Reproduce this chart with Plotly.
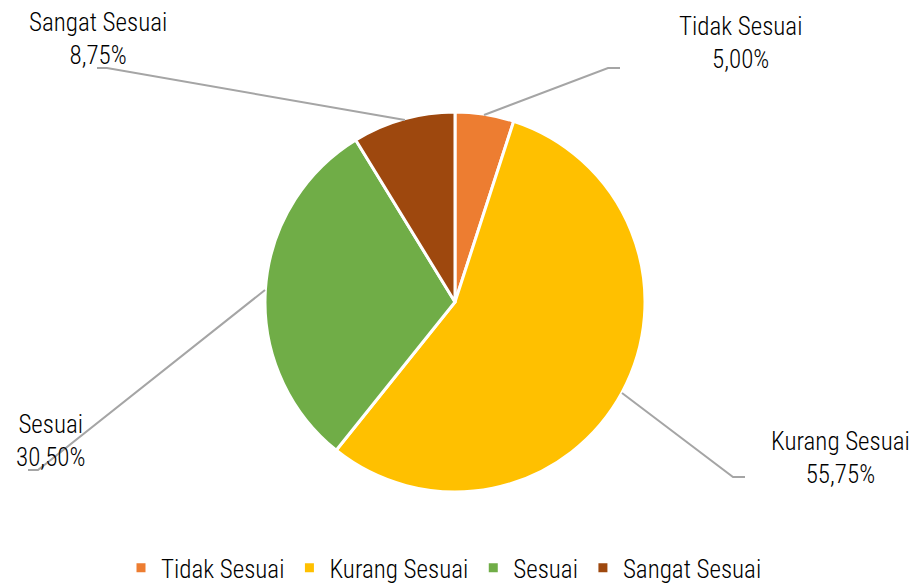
import plotly.graph_objects as go

categories = ["Tidak Sesuai", "Kurang Sesuai", "Sesuai", "Sangat Sesuai"]
values = [5.00, 55.75, 30.50, 8.75]
colors = ["#ED7D31", "#FFC000", "#70AD47", "#9E480E"]
label_text = ["5,00%", "55,75%", "30,50%", "8,75%"]

FONT = "Roboto Condensed, Arial Narrow, Liberation Sans, sans-serif"
W, H = 918, 584
OFF = 8  # page body margin


def px(x):
    return (x - OFF) / W


def py(y):
    return 1 - (y - OFF) / H


CX, CY, R = 455, 302, 190

fig = go.Figure(go.Pie(
    labels=categories, values=values, sort=False, direction="clockwise", rotation=0,
    marker=dict(colors=colors, line=dict(color="white", width=3)),
    textinfo="none", hoverinfo="label+percent",
    domain=dict(x=[px(CX - R), px(CX + R)], y=[py(CY + R), py(CY - R)]),
))

# leader line paths (pixel layout positions)
leaders = [
    [(484, 115), (608, 68), (620, 68)],
    [(622, 393), (733, 477), (745, 477)],
    [(265, 290), (38, 470), (28, 470)],
    [(405, 120), (107, 68), (97, 68)],
]
label_pos = [(740, 43), (840, 458), (50, 441), (98, 39)]

for pts in leaders:
    path = "M " + " L ".join(f"{px(x)},{py(y)}" for x, y in pts)
    fig.add_shape(type="path", path=path, xref="paper", yref="paper",
                  line=dict(color="#A5A5A5", width=2))

for cat, txt, (x, y) in zip(categories, label_text, label_pos):
    fig.add_annotation(x=px(x), y=py(y), xref="paper", yref="paper",
                       text=f"{cat}<br>{txt}", showarrow=False,
                       font=dict(family=FONT, size=25, color="#000000", weight=300),
                       align="center", xanchor="center", yanchor="middle")

fig.update_layout(
    width=W, height=H, margin=dict(l=0, r=0, t=0, b=0, autoexpand=False),
    paper_bgcolor="white", plot_bgcolor="white",
    font=dict(family=FONT, size=25, color="#000000", weight=300),
    showlegend=True,
    legend=dict(orientation="h", x=px(444), xanchor="center", y=py(568), yanchor="middle",
                font=dict(family=FONT, size=25, weight=300), itemwidth=30,
                traceorder="normal"),
)

fig.write_html("out.html")
